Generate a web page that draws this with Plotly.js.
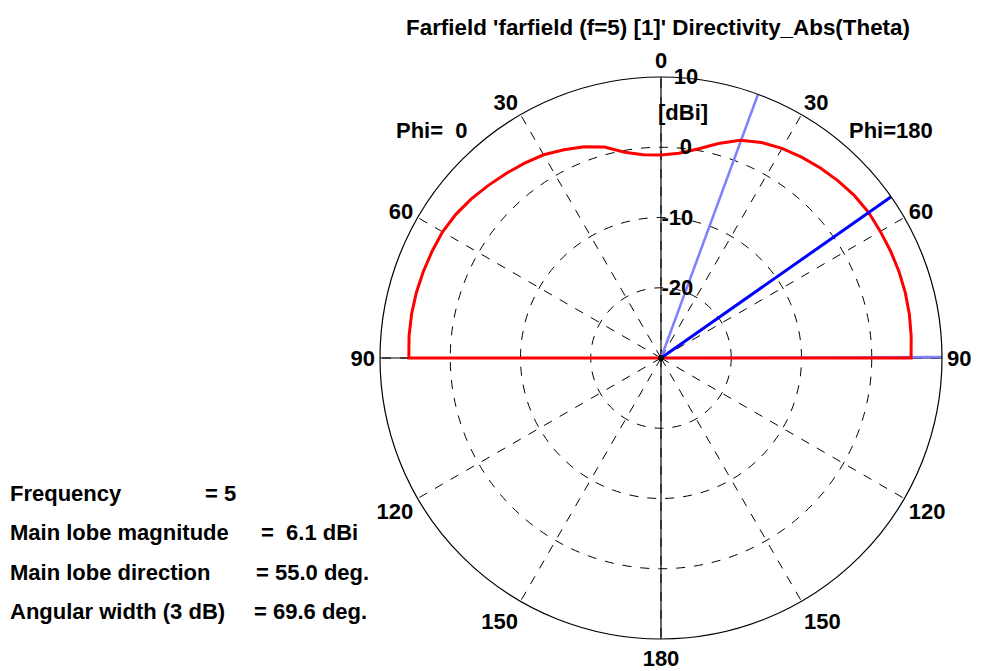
<!DOCTYPE html>
<html>
<head>
<meta charset="utf-8">
<script src="https://cdn.plot.ly/plotly-3.0.1.min.js"></script>
<style>html,body{margin:0;padding:0;background:#fff;}#chart{width:982px;height:671px;}</style>
</head>
<body>
<div id="chart"></div>
<script>
// Theta angles (deg) of the farfield cut
const thetaDeg = [0,5,10,15,20,25,30,35,40,45,50,55,60,65,70,75,80,85,90];
// Directivity (dBi), Phi = 0 half (drawn on left)
const dirPhi0 = [-1.1,-0.95,-0.25,1.1,2.0,2.7,3.4,3.85,4.3,4.75,5.25,5.65,5.9,5.95,6.0,6.05,6.05,6.0,5.9];
// Directivity (dBi), Phi = 180 half (drawn on right)
const dirPhi180 = [-1.1,-0.75,0.2,1.6,3.0,3.85,4.45,4.9,5.3,5.65,5.95,6.1,6.05,6.05,6.05,6.0,5.9,5.75,5.6];
// Below the horizon the pattern falls off the scale
const belowHorizon = -30;
// Radial scale
const radialMin = -30, radialMax = 10;
const radialTicks = [-20,-10,0,10];
const radialTickText = ['-20','-10','0','10'];
// Angular ticks and labels
const angTickVals = [0,30,60,90,120,150,180,210,240,270,300,330];
const angTickText = ['0','30','60','90','120','150','180','150','120','90','60','30'];
// Main lobe info
const mainLobeDir = 55.0;
const beamEdges = [20.2, 89.8];
const infoLabels = ['Frequency','Main lobe magnitude','Main lobe direction','Angular width (3 dB)'];
const infoValues = ['= 5','=&nbsp;&nbsp;6.1 dBi','=&nbsp;55.0 deg.','=&nbsp;69.6 deg.'];

// Build the red curve: center -> Phi=0 side (90..0) -> Phi=180 side (0..90) -> center
const rRed = [], tRed = [];
rRed.push(belowHorizon); tRed.push(360 - thetaDeg[thetaDeg.length-1]);
for (let i = thetaDeg.length - 1; i >= 0; i--) { rRed.push(dirPhi0[i]); tRed.push(360 - thetaDeg[i]); }
for (let i = 0; i < thetaDeg.length; i++) { rRed.push(dirPhi180[i]); tRed.push(thetaDeg[i]); }
rRed.push(belowHorizon); tRed.push(thetaDeg[thetaDeg.length-1]);

const FONT = 'Liberation Sans, Arial, sans-serif';
const FS = 22;
const traces = [];
// solid main axes (0-180, 90-270)
traces.push({type:'scatterpolar', mode:'lines', r:[radialMax, radialMin, radialMax], theta:[0,0,180],
  line:{color:'#000', width:1.2}, hoverinfo:'skip', showlegend:false});
traces.push({type:'scatterpolar', mode:'lines', r:[radialMax, radialMin, radialMax], theta:[270,270,90],
  line:{color:'#000', width:1.2}, hoverinfo:'skip', showlegend:false});
// 3 dB beam edges (light blue)
beamEdges.forEach(a => traces.push({type:'scatterpolar', mode:'lines', r:[radialMin, radialMax], theta:[a,a],
  line:{color:'#8080ff', width:2.5}, hoverinfo:'skip', showlegend:false}));
// red pattern
traces.push({type:'scatterpolar', mode:'lines', r:rRed, theta:tRed,
  line:{color:'#ff0000', width:3}, showlegend:false});
// main lobe direction (blue)
traces.push({type:'scatterpolar', mode:'lines', r:[radialMin, radialMax], theta:[mainLobeDir, mainLobeDir],
  line:{color:'#0000ff', width:3}, hoverinfo:'skip', showlegend:false});
// center dot
traces.push({type:'scatterpolar', mode:'markers', r:[radialMin], theta:[0],
  marker:{color:'#000', size:6}, hoverinfo:'skip', showlegend:false});

const annotations = [
  {text:'Phi=&nbsp;&nbsp;0', x:432, y:130},
  {text:'Phi=180', x:891, y:130},
  {text:'[dBi]', x:683, y:113}
].map(a => ({text:a.text, xref:'paper', yref:'paper', x:a.x/982, y:1-a.y/671,
  xanchor:'center', yanchor:'middle', showarrow:false, font:{family:FONT, size:FS, color:'#000', weight:'bold'}}));

const infoY = [493, 532, 572, 611];
const infoValX = [203, 259, 254, 252];
infoLabels.forEach((t,i) => {
  annotations.push({text:t, xref:'paper', yref:'paper', x:8/982, y:1-infoY[i]/671, xanchor:'left', yanchor:'middle',
    showarrow:false, font:{family:FONT, size:FS, color:'#000', weight:'bold'}});
  annotations.push({text:infoValues[i], xref:'paper', yref:'paper', x:infoValX[i]/982, y:1-infoY[i]/671, xanchor:'left', yanchor:'middle',
    showarrow:false, font:{family:FONT, size:FS, color:'#000', weight:'bold'}});
});

// right-align the radial labels by padding with non-breaking spaces
const padded = radialTickText.map(s => {
  const n = Math.max(0, Math.round((3 - s.length) * 1.6));
  return '&nbsp;'.repeat(n) + s;
});

const layout = {
  width:982, height:671,
  margin:{l:0, r:0, t:0, b:0},
  paper_bgcolor:'#fff',
  showlegend:false,
  title:{text:"Farfield 'farfield (f=5) [1]' Directivity_Abs(Theta)", x:658/982, xanchor:'center', y:1-27/671, yanchor:'middle',
    font:{family:FONT, size:22.4, color:'#000', weight:'bold'}},
  polar:{
    domain:{x:[380/982, 942/982], y:[1-639/671, 1-77/671]},
    bgcolor:'#fff',
    radialaxis:{range:[radialMin, radialMax], tickvals:radialTicks, ticktext:padded,
      angle:90, showline:false, ticks:'', gridcolor:'#000', griddash:'dash', gridwidth:1,
      tickfont:{family:FONT, size:FS, color:'#000', weight:'bold'}, tickangle:90},
    angularaxis:{rotation:90, direction:'clockwise', tickvals:angTickVals, ticktext:angTickText,
      showline:true, linecolor:'#000', linewidth:1.2, ticks:'', gridcolor:'#000', griddash:'dash', gridwidth:1,
      tickfont:{family:FONT, size:FS, color:'#000', weight:'bold'}}
  },
  annotations:annotations
};

Plotly.newPlot('chart', traces, layout, {staticPlot:true, displayModeBar:false});
</script>
</body>
</html>
